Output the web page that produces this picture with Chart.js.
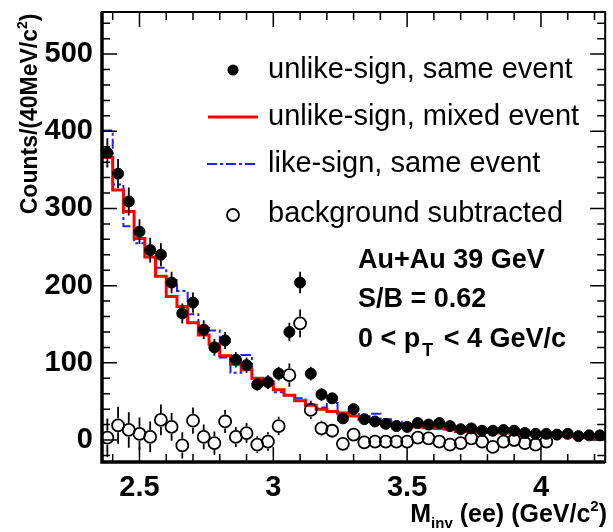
<!DOCTYPE html>
<html>
<head>
<meta charset="utf-8">
<script src="https://cdn.jsdelivr.net/npm/chart.js@4.4.0/dist/chart.umd.min.js"></script>
<style>
html,body{margin:0;padding:0;background:#fff;}
#wrap{width:613px;height:532px;position:relative;}
</style>
</head>
<body>
<div id="wrap"><canvas id="c" width="613" height="532"></canvas></div>
<script>
// ---- data (bin centres in GeV/c^2, 40 MeV bins) ----
const massBins = [2.38,2.42,2.46,2.50,2.54,2.58,2.62,2.66,2.70,2.74,2.78,2.82,2.86,2.90,2.94,2.98,3.02,3.06,3.10,3.14,3.18,3.22,3.26,3.30,3.34,3.38,3.42,3.46,3.50,3.54,3.58,3.62,3.66,3.70,3.74,3.78,3.82,3.86,3.90,3.94,3.98,4.02,4.06,4.10,4.14,4.18,4.22];
const unlikeSame    = [372,345,309,270,246,240,204,164,178,143,120,129,104,97,72,75,86,140,204,86,59,54,28,40,27,24,21,18,17,22,20,22,18,14,15,12,12,13,12,9,8,8,7,8,5,6,6];
const unlikeSameErr = [19,19,18,16,16,15,14,13,13,12,11,11,10,10,8,9,9,12,14,9,8,7,5,6,5,5,5,4,4,5,4,5,4,4,4,3,3,4,3,3,3,3,3,3,2,2,2];
const unlikeMixed   = [366,324,296,261,237,212,186,173,152,136,124,109,98,91,80,75,65,58,51,45,40,37,35,31,27,24,22,19,17,17,16,15,14,11,11,10,10,9,9,8,8,7,6,5,4,3,3];
const likeSame      = [401,331,277,255,237,223,207,193,163,145,142,107,87,110,78,72,62,58,54,46,42,48,33,36,30,34,27,24,22,21,18,20,13,13,13,12,12,11,10,9,9,8,8,6,6,6,6];
const bgSubtracted    = [3,19,13,8,4,26,17,-7,25,4,-4,24,4,9,-6,-2,18,84,151,39,15,12,-5,7,-3,-2,-2,-2,-2,3,2,-2,-6,-4,2,-2,-9,-2,0,-4,-6,-2,null,null,null,null,null];
const bgSubtractedErr = [25,24,23,21,20,20,18,17,17,16,15,15,13,13,11,12,12,15,18,12,10,9,7,8,7,7,6,6,5,6,6,6,6,5,5,5,5,5,4,4,4,4,null,null,null,null,null];

const xTickLabels = ['2.5','3','3.5','4'];
const yTickLabels = ['0','100','200','300','400','500'];
const legendLabels = ['unlike-sign, same event','unlike-sign, mixed event','like-sign, same event','background subtracted'];
const infoLines = ['Au+Au 39 GeV','S/B = 0.62'];
const ptLine = ['0 < p','T',' < 4 GeV/c'];
const yTitle = ['Counts/(40MeV/c','2',')'];
const xTitle = ['M','inv',' (ee) (GeV/c','2',')'];

const HALF_BIN = 0.02;
const FONT = '"Liberation Sans", Arial, Helvetica, sans-serif';

const points = arr => massBins.map((m,i)=>({x:m, y:arr[i]}));
const steps = arr => {
  const p = massBins.map((m,i)=>({x:m-HALF_BIN, y:arr[i]}));
  p.push({x:massBins[massBins.length-1]+HALF_BIN, y:arr[arr.length-1]});
  return p;
};

const errorBars = {
  id:'errorBars',
  afterDatasetsDraw(chart){
    const ctx=chart.ctx, xs=chart.scales.x, ys=chart.scales.y, a=chart.chartArea;
    ctx.save();
    ctx.beginPath(); ctx.rect(a.left,a.top,a.right-a.left,a.bottom-a.top); ctx.clip();
    ctx.strokeStyle='#000'; ctx.lineWidth=1.8;
    chart.data.datasets.forEach(ds=>{
      if(!ds.errors) return;
      ds.data.forEach((p,i)=>{
        const e=ds.errors[i];
        if(p.y==null||e==null) return;
        const x=xs.getPixelForValue(p.x), y=ys.getPixelForValue(p.y);
        const y1=ys.getPixelForValue(p.y+e), y2=ys.getPixelForValue(p.y-e);
        const gap = ds.hollow ? ds.pointRadius+1 : 0;
        ctx.beginPath();
        if(y1 < y-gap){ ctx.moveTo(x,y1); ctx.lineTo(x,y-gap); }
        if(y2 > y+gap){ ctx.moveTo(x,y+gap); ctx.lineTo(x,y2); }
        ctx.stroke();
      });
    });
    ctx.restore();
  }
};

const frame = {
  id:'frame',
  afterDraw(chart){
    const ctx=chart.ctx, a=chart.chartArea, xs=chart.scales.x, ys=chart.scales.y;
    ctx.save();
    ctx.strokeStyle='#000';
    ctx.lineWidth=1.5;
    xs.ticks.forEach(t=>{
      const v=t.value; if(v<xs.min-1e-9||v>xs.max+1e-9) return;
      const major=Math.abs(v*2-Math.round(v*2))<1e-6;
      const L=major?15:8, p=xs.getPixelForValue(v);
      ctx.beginPath();
      ctx.moveTo(p,a.bottom); ctx.lineTo(p,a.bottom-L);
      ctx.moveTo(p,a.top); ctx.lineTo(p,a.top+L);
      ctx.stroke();
    });
    ys.ticks.forEach(t=>{
      const v=t.value; if(v<ys.min||v>ys.max) return;
      if(Math.abs(v/20-Math.round(v/20))>1e-6) return;
      const major=Math.abs(v/100-Math.round(v/100))<1e-6;
      const L=major?15:8, p=ys.getPixelForValue(v);
      ctx.beginPath();
      ctx.moveTo(a.left,p); ctx.lineTo(a.left+L,p);
      ctx.moveTo(a.right,p); ctx.lineTo(a.right-L,p);
      ctx.stroke();
    });
    ctx.lineWidth=2;
    ctx.strokeRect(a.left,a.top,a.right-a.left,a.bottom-a.top);
    ctx.lineWidth=3.5;
    ctx.beginPath(); ctx.moveTo(a.left,a.top); ctx.lineTo(a.left,a.bottom); ctx.lineTo(a.right,a.bottom); ctx.stroke();

    // legend
    ctx.fillStyle='#000';
    ctx.font='29px '+FONT; ctx.textBaseline='middle'; ctx.textAlign='left';
    const rows=[70,117,164,214];
    ctx.beginPath(); ctx.arc(233,rows[0],5.5,0,Math.PI*2); ctx.fill();
    ctx.strokeStyle='#ff0000'; ctx.lineWidth=3;
    ctx.beginPath(); ctx.moveTo(208,rows[1]); ctx.lineTo(258,rows[1]); ctx.stroke();
    ctx.strokeStyle='#2020ff'; ctx.lineWidth=2; ctx.setLineDash([10,3,3,3]);
    ctx.beginPath(); ctx.moveTo(207,rows[2]); ctx.lineTo(258,rows[2]); ctx.stroke();
    ctx.setLineDash([]);
    ctx.strokeStyle='#000'; ctx.lineWidth=1.8;
    ctx.beginPath(); ctx.arc(233,rows[3]+1,6,0,Math.PI*2); ctx.stroke();
    legendLabels.forEach((t,i)=>ctx.fillText(t,268,rows[i]));

    // info text
    ctx.textBaseline='alphabetic';
    ctx.font='bold 27px '+FONT;
    ctx.fillText(infoLines[0],358,268);
    ctx.fillText(infoLines[1],358,307);
    let x=358;
    ctx.fillText(ptLine[0],x,347); x+=ctx.measureText(ptLine[0]).width;
    ctx.font='bold 18px '+FONT; ctx.fillText(ptLine[1],x+2,356); x+=ctx.measureText(ptLine[1]).width+5;
    ctx.font='bold 27px '+FONT; ctx.fillText(ptLine[2],x,347);

    // x title (right aligned)
    const big='bold 25px '+FONT, small='bold 15px '+FONT;
    const xs2=[[xTitle[0],big,0],[xTitle[1],small,6],[xTitle[2],big,0],[xTitle[3],small,-11],[xTitle[4],big,0]];
    let tot=0; xs2.forEach(s=>{ctx.font=s[1]; tot+=ctx.measureText(s[0]).width;});
    x=607-tot;
    xs2.forEach(s=>{ctx.font=s[1]; ctx.fillText(s[0],x,522+s[2]); x+=ctx.measureText(s[0]).width;});

    // y title (rotated, aligned to top)
    ctx.save();
    ctx.translate(37,13.5); ctx.rotate(-Math.PI/2);
    const bigY='bold 23px '+FONT, smallY='bold 14px '+FONT;
    const ys2=[[yTitle[0],bigY,0],[yTitle[1],smallY,-10],[yTitle[2],bigY,0]];
    tot=0; ys2.forEach(s=>{ctx.font=s[1]; tot+=ctx.measureText(s[0]).width;});
    x=-tot;
    ys2.forEach(s=>{ctx.font=s[1]; ctx.fillText(s[0],x,s[2]); x+=ctx.measureText(s[0]).width;});
    ctx.restore();

    ctx.restore();
  }
};

new Chart(document.getElementById('c'), {
  type:'scatter',
  data:{
    datasets:[
      {label:legendLabels[0], data:points(unlikeSame), errors:unlikeSameErr, hollow:false,
       pointRadius:5.5, pointHoverRadius:5.5, pointBackgroundColor:'#000', pointBorderColor:'#000', pointBorderWidth:1, showLine:false, order:0},
      {label:legendLabels[3], data:points(bgSubtracted), errors:bgSubtractedErr, hollow:true,
       pointRadius:6, pointHoverRadius:6, pointBackgroundColor:'rgba(0,0,0,0)', pointBorderColor:'#000', pointBorderWidth:1.8, showLine:false, order:1},
      {label:legendLabels[1], data:steps(unlikeMixed), showLine:true, stepped:'before', borderColor:'#ff0000', borderWidth:3,
       pointRadius:0, fill:false, order:2},
      {label:legendLabels[2], data:steps(likeSame), showLine:true, stepped:'before', borderColor:'#2020ff', borderWidth:2,
       borderDash:[10,3,3,3], pointRadius:0, fill:false, order:3}
    ]
  },
  options:{
    responsive:false, animation:false, devicePixelRatio:1,
    layout:{padding:{top:12,right:1,left:0,bottom:0}},
    plugins:{legend:{display:false}, tooltip:{enabled:false}, title:{display:false}},
    scales:{
      x:{type:'linear', min:2.36, max:4.24,
        grid:{display:false, drawTicks:false}, border:{display:false},
        ticks:{stepSize:0.1, autoSkip:false, maxRotation:0, includeBounds:false, padding:9,
          color:'#000', font:{family:FONT, size:29, weight:'bold'},
          callback:(v)=>{ const k=Math.round(v*2); if(Math.abs(v*2-k)>1e-6) return ''; const i=k-5; return (i>=0&&i<xTickLabels.length)?xTickLabels[i]:''; }},
        afterFit:(s)=>{ s.height=70; s.paddingLeft=0; s.paddingRight=0; }
      },
      y:{type:'linear', min:-28.5, max:554.5,
        grid:{display:false, drawTicks:false}, border:{display:false},
        ticks:{stepSize:20, autoSkip:false, includeBounds:false, padding:9,
          color:'#000', font:{family:FONT, size:29, weight:'bold'},
          callback:(v)=>{ const k=Math.round(v/100); if(Math.abs(v/100-k)>1e-6) return ''; return (k>=0&&k<yTickLabels.length)?yTickLabels[k]:''; }},
        afterFit:(s)=>{ s.width=102; s.paddingTop=0; s.paddingBottom=0; }
      }
    }
  },
  plugins:[errorBars, frame]
});
</script>
</body>
</html>
